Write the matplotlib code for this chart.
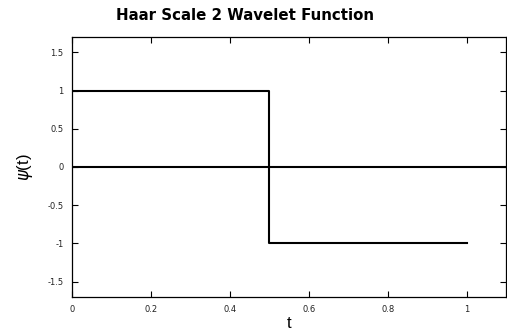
import matplotlib
matplotlib.use("Agg")
import matplotlib.pyplot as plt

t = [0, 0.5, 0.5, 1.0]
psi = [1, 1, -1, -1]
xticks = [0, 0.2, 0.4, 0.6, 0.8, 1]
yticks = [-1.5, -1, -0.5, 0, 0.5, 1, 1.5]

plt.rcParams['font.family'] = ['DejaVu Sans']

fig = plt.figure(figsize=(5.07, 3.31), dpi=100)
ax = fig.add_axes([72/507, 34/331, (506-72)/507, (297-37)/331])

ax.plot(t, psi, color='black', lw=1.5)
ax.axhline(0, color='black', lw=1.5)
ax.set_xlim(0, 1.1)
ax.set_ylim(-1.7, 1.7)
ax.set_xticks(xticks)
ax.set_xticklabels([f"{v:g}" for v in xticks])
ax.set_yticks(yticks)
ax.set_yticklabels([f"{v:g}" for v in yticks])
ax.tick_params(direction='in', length=4, width=0.8, labelsize=6, top=True, right=True, pad=6,
               labelcolor='#222222')
for s in ax.spines.values():
    s.set_linewidth(0.9)

fig.text(245/507, 1 - 16/331, "Haar Scale 2 Wavelet Function", ha='center', va='center',
         fontsize=10.8, fontweight='bold')
fig.text(289/507, 1 - 323/331, "t", ha='center', va='center', fontsize=12,
         family='Liberation Sans')
fig.text(25/507, 1 - 167/331, r"$\psi$(t)", ha='center', va='center', fontsize=12, rotation=90,
         family='Liberation Sans')

fig.savefig("out.png", dpi=100)
